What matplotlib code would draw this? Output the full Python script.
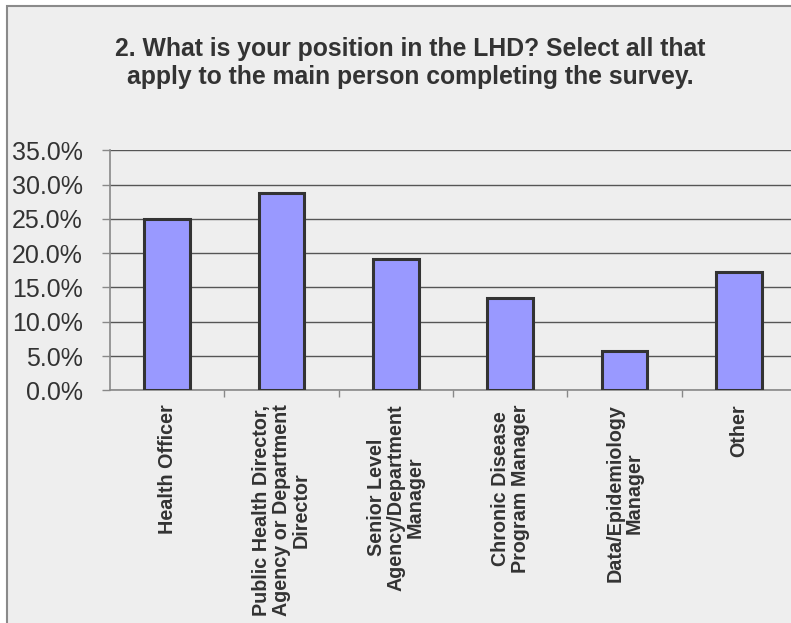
import matplotlib
matplotlib.use("Agg")
import matplotlib.pyplot as plt
from matplotlib.patches import Rectangle
from matplotlib.ticker import FuncFormatter, MultipleLocator, FixedLocator

categories = [
    "Health Officer",
    "Public Health Director,\nAgency or Department\nDirector",
    "Senior Level\nAgency/Department\nManager",
    "Chronic Disease\nProgram Manager",
    "Data/Epidemiology\nManager",
    "Other",
]
values = [25.0, 28.8, 19.1, 13.5, 5.7, 17.3]
title = "2. What is your position in the LHD? Select all that\napply to the main person completing the survey."

plt.rcParams['font.family'] = ['Liberation Sans', 'DejaVu Sans']

W, H = 791, 623
fig = plt.figure(figsize=(W / 100, H / 100), dpi=100)
fig.patch.set_facecolor('white')

bg = Rectangle((7 / W, -0.1), 1.2, (H - 6) / H + 0.1, transform=fig.transFigure,
               facecolor='#EEEEEE', edgecolor='#8A8A8A', linewidth=1.5, zorder=-10)
fig.patches.append(bg)

ax = fig.add_axes([110 / W, (H - 390.3) / H, 686 / W, 240 / H])
ax.set_facecolor('#EEEEEE')

x = list(range(len(categories)))
ax.bar(x, values, width=0.4, color='#9999FF', edgecolor='#333333', linewidth=2.2, zorder=3)

ax.set_xlim(-0.5, len(categories) - 0.5)
ax.set_ylim(0, 35)
ax.yaxis.set_major_locator(MultipleLocator(5))
ax.yaxis.set_major_formatter(FuncFormatter(lambda v, p: f"{v:.1f}%"))
ax.grid(axis='y', color='#555555', linewidth=1, zorder=1)
ax.set_axisbelow(True)

for s in ['top', 'right']:
    ax.spines[s].set_visible(False)
for s in ['left', 'bottom']:
    ax.spines[s].set_color('#888888')
    ax.spines[s].set_linewidth(1.2)

ax.tick_params(axis='y', direction='out', length=6, width=1, color='#888888',
               labelsize=18, labelcolor='#333333', pad=13.5)

ax.set_xticks(x)
ax.set_xticklabels(categories, rotation=90, fontsize=14.2, fontweight='bold',
                   color='#333333', ha='center', va='top', multialignment='center',
                   linespacing=1.05)
ax.tick_params(axis='x', which='major', length=0, pad=10)
ax.xaxis.set_minor_locator(FixedLocator([i + 0.5 for i in range(len(categories) - 1)]))
ax.tick_params(axis='x', which='minor', direction='out', length=5, width=1, color='#888888')

fig.text(410 / W, 1 - 37 / H, title, ha='center', va='top', fontsize=17.8,
         fontweight='bold', color='#333333', linespacing=1.22, multialignment='center')

fig.savefig('out.png', dpi=100, facecolor=fig.get_facecolor())
